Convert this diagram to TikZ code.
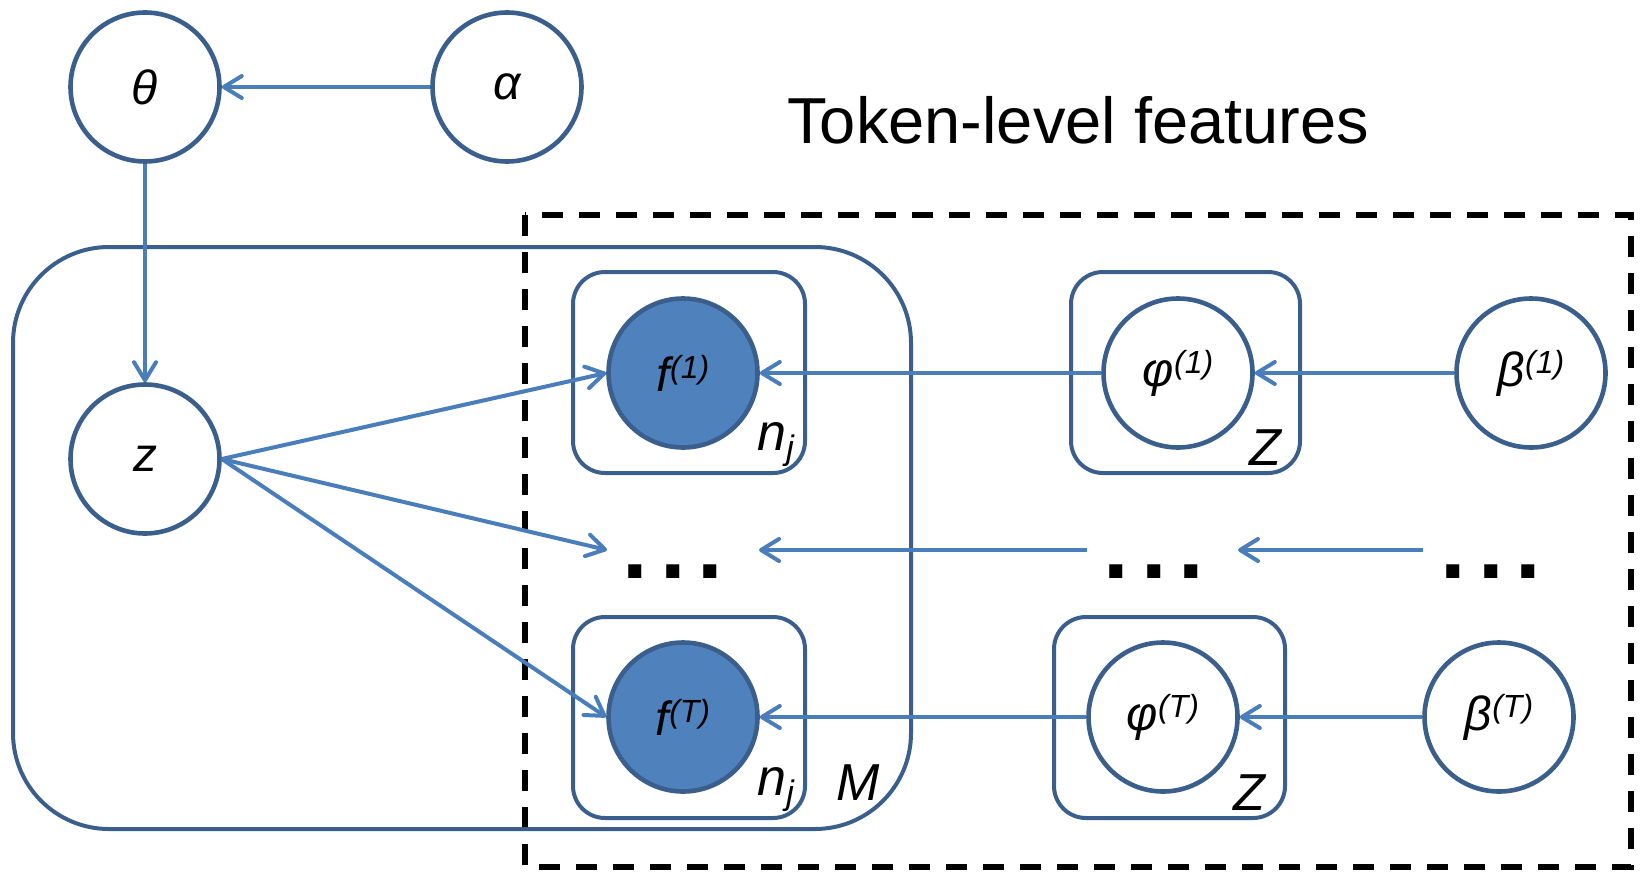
\documentclass[tikz,border=0pt]{standalone}
\usepackage{fontspec}
\setmainfont{Liberation Sans}
\usetikzlibrary{arrows.meta}
\definecolor{cborder}{HTML}{3A5F8C}
\definecolor{cfill}{HTML}{4F81BD}
\definecolor{carrow}{HTML}{4A7EBB}
\newcommand\labfont{\fontsize{24}{27}\selectfont\itshape}
\newcommand\supx[1]{\raisebox{6.5pt}{\fontsize{16}{16}\selectfont #1}}
\newcommand\subx[1]{\raisebox{-4.5pt}{\fontsize{17}{17}\selectfont #1}}
\newcommand\platefont{\fontsize{26}{28}\selectfont\itshape}
\begin{document}
\begin{tikzpicture}[x=0.5pt,y=-0.5pt,
  var/.style={circle, draw=cborder, line width=2.3pt, fill=white, minimum size=74.5pt, inner sep=0pt, font=\labfont},
  obs/.style={var, fill=cfill},
  plate/.style={draw=cborder, line width=2pt, rounded corners=16pt},
  bigplate/.style={draw=cborder, line width=2pt, rounded corners=48pt},
  dashbox/.style={draw=black, line width=2.7pt, dash pattern=on 10.5pt off 8pt},
  conn/.style={draw=carrow, line width=2pt, -{Straight Barb[length=9pt,width=11pt,round]}},
  platelbl/.style={anchor=base west, inner sep=0pt, font=\platefont},
  dotsl/.style={inner sep=0pt, font=\fontsize{46}{46}\selectfont\bfseries},
  titlel/.style={anchor=base west, inner sep=0pt, font=\fontsize{32.5}{36}\selectfont}]
\useasboundingbox (0,0) rectangle (1641,872);

% boxes and plates
\draw[dashbox] (525,215) rectangle (1631,867);
\draw[bigplate] (13,247) rectangle (911,829);
\draw[plate] (573,272) rectangle (805,473);
\draw[plate] (1071,272) rectangle (1300,473);
\draw[plate] (573,617) rectangle (805,818);
\draw[plate] (1054,617) rectangle (1285,818);

% title
\node[titlel] (title) at (787,143.3) {Token-level features};

% variables
\node[var] (theta) at (145,87) {θ};
\node[var] (alpha) at (507,87) {α};
\node[var] (z) at (145,459) {z};
\node[obs] (f1) at (683,373) {f\supx{(1)}};
\node[var] (phi1) at (1178,373) {φ\supx{(1)}};
\node[var] (beta1) at (1531,373) {β\supx{(1)}};
\node[obs] (fT) at (683,717) {f\supx{(T)}};
\node[var] (phiT) at (1163,717) {φ\supx{(T)}};
\node[var] (betaT) at (1499,717) {β\supx{(T)}};

% plate labels
\node[platelbl] (nj1) at (757,450) {n\subx{j}};
\node[platelbl] (nj2) at (757,795) {n\subx{j}};
\node[platelbl] (Z1) at (1249,465) {Z};
\node[platelbl] (Z2) at (1233,810) {Z};
\node[platelbl] (M) at (836,800) {M};

% dots
\node[dotsl] (d1) at (673,572) {.\kern6pt.\kern6pt.};
\node[dotsl] (d2) at (1154,572) {.\kern6pt.\kern6pt.};
\node[dotsl] (d3) at (1491,572) {.\kern6pt.\kern6pt.};

% free ends of the middle arrows
\coordinate (zm) at (607,550);
\coordinate (m1s) at (1087,550);
\coordinate (m1e) at (759,550);
\coordinate (m2s) at (1423,550);
\coordinate (m2e) at (1238,550);

% connectors
\draw[conn] (alpha) -- (theta);
\draw[conn] (theta) -- (z);
\draw[conn] (z.east) -- (f1.west);
\draw[conn] (z.east) -- (zm);
\draw[conn] (z.east) -- (fT.west);
\draw[conn] (phi1) -- (f1);
\draw[conn] (beta1) -- (phi1);
\draw[conn] (phiT) -- (fT);
\draw[conn] (betaT) -- (phiT);
\draw[conn] (m1s) -- (m1e);
\draw[conn] (m2s) -- (m2e);
\end{tikzpicture}
\end{document}
